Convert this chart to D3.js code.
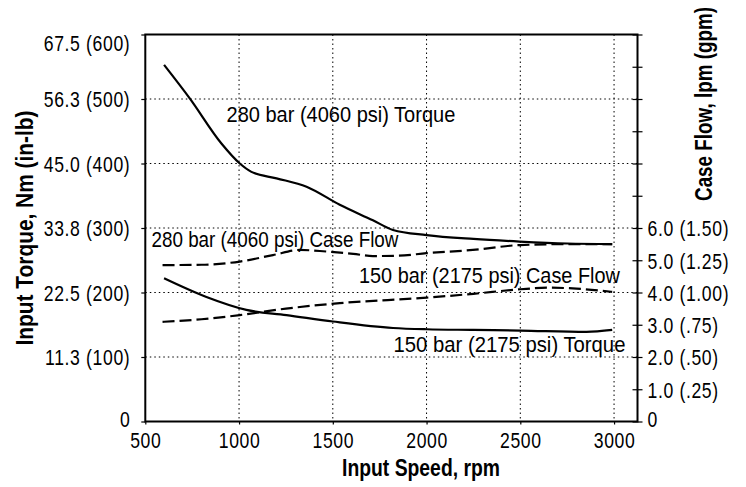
<!DOCTYPE html>
<html><head><meta charset="utf-8">
<script src="https://cdn.jsdelivr.net/npm/d3@7"></script>
<style>
body{margin:0;background:#fff}
svg{display:block}
text{font-family:"Liberation Sans",Arial,sans-serif;fill:#000}
</style>
</head><body>
<svg id="chart" width="746" height="487"></svg>
<script>
// ---- data ----
const torqueTicks = [0, 100, 200, 300, 400, 500, 600];            // in-lb
const torqueTickLabels = ["0", "11.3 (100)", "22.5 (200)", "33.8 (300)", "45.0 (400)", "56.3 (500)", "67.5 (600)"];
const flowTicks = [0, 1, 2, 3, 4, 5, 6, 7, 8, 9, 10, 11, 12];       // lpm
const flowTickLabels = ["0", "1.0 (.25)", "2.0 (.50)", "3.0 (.75)", "4.0 (1.00)", "5.0 (1.25)", "6.0 (1.50)", "", "", "", "", "", ""];
const speedTicks = [500, 1000, 1500, 2000, 2500, 3000];

// 280 bar torque (rpm, in-lb)
const torque280 = [[600,553],[737,501],[906,431],[1004,400],[1066,387],[1200,377],[1360,364],[1537,336],[1714,312],[1821,297],[2000,289],[2250,283],[2496,279],[2750,276],[2990,275]];
// 150 bar torque (rpm, in-lb)
const torque150 = [[600,222],[826,193],[1039,173],[1253,165],[1501,155],[1821,145],[2000,143],[2250,142],[2500,141],[2853,139],[2990,142]];
// 280 bar case flow (rpm, lpm)
const flow280 = [[592,4.85],[800,4.86],[1004,4.96],[1181,5.16],[1324,5.32],[1466,5.27],[1609,5.2],[1714,5.13],[1850,5.14],[2000,5.22],[2247,5.32],[2496,5.47],[2750,5.5],[2990,5.5]];
// 150 bar case flow (rpm, lpm)
const flow150 = [[592,3.09],[800,3.17],[1004,3.3],[1250,3.5],[1537,3.67],[2000,3.84],[2250,3.96],[2500,4.1],[2650,4.15],[2800,4.12],[2990,4.02]];

const seriesNames = ["280 bar (4060 psi) Torque", "280 bar (4060 psi) Case Flow", "150 bar (2175 psi) Case Flow", "150 bar (2175 psi) Torque"];
const titleY = "Input Torque, Nm (in-lb)";
const titleY2 = "Case Flow, lpm (gpm)";
const titleX = "Input Speed, rpm";

// ---- layout ----
const svg = d3.select("#chart");
const X0 = 145.3, X1 = 637.5, Y0 = 421.5, Y1 = 34.5;
const x = d3.scaleLinear().domain([500, 3125]).range([X0, X1]);
const y = d3.scaleLinear().domain([0, 600]).range([Y0, Y1]);
const yR = d3.scaleLinear().domain([0, 12]).range([Y0, Y1]);

const SX = 0.8; // horizontal condensing of the tick font

// grid
const grid = svg.append("g").attr("stroke", "#000").attr("stroke-width", 1).attr("stroke-dasharray", "1.5,3");
grid.selectAll("line.h").data(torqueTicks.filter(d => d > 0 && d < 600)).join("line")
  .attr("x1", X0).attr("x2", X1).attr("y1", d => y(d)).attr("y2", d => y(d));
grid.selectAll("line.v").data(speedTicks.filter(d => d > 500)).join("line")
  .attr("y1", Y1).attr("y2", Y0).attr("x1", d => x(d)).attr("x2", d => x(d));

// axes
const left = svg.append("g").attr("transform", `translate(${X0},0)`)
  .call(d3.axisLeft(y).tickValues(torqueTicks).tickSize(4).tickPadding(11)
    .tickFormat((d, i) => torqueTickLabels[i]));
const right = svg.append("g").attr("transform", `translate(${X1},0)`)
  .call(d3.axisRight(yR).tickValues(flowTicks).tickSize(5).tickPadding(5)
    .tickFormat((d, i) => flowTickLabels[i]));
right.selectAll(".tick line").attr("x1", -5).attr("x2", 5);
const bottom = svg.append("g").attr("transform", `translate(0,${Y0})`)
  .call(d3.axisBottom(x).tickValues(speedTicks).tickSize(3).tickPadding(9)
    .tickFormat(d3.format("d")));
[left, right, bottom].forEach(g => {
  g.selectAll(".domain").remove();
  g.selectAll(".tick line").attr("stroke", "#000").attr("stroke-width", 1.2);
  g.selectAll("text").attr("font-size", 22).attr("font-family", null)
    .style("letter-spacing", "0.8px")
    .attr("x", function() { return (+d3.select(this).attr("x") || 0) / SX; })
    .attr("transform", `scale(${SX},1)`);
});
left.selectAll(".tick text").attr("dy", d => d === 600 ? "0.72em" : d === 0 ? "0.22em" : "0.36em");
right.selectAll(".tick text").attr("dy", d => d === 0 ? "0.22em" : "0.36em");
bottom.selectAll(".tick text").attr("dy", "0.68em");

// frame
svg.append("rect").attr("x", X0).attr("y", Y1).attr("width", X1 - X0).attr("height", Y0 - Y1)
  .attr("fill", "none").attr("stroke", "#000").attr("stroke-width", 2);

// lines
const lineT = d3.line().x(d => x(d[0])).y(d => y(d[1])).curve(d3.curveMonotoneX);
const lineF = d3.line().x(d => x(d[0])).y(d => yR(d[1])).curve(d3.curveMonotoneX);
const lines = svg.append("g").attr("fill", "none").attr("stroke", "#000").attr("stroke-width", 2.2);
lines.append("path").attr("d", lineT(torque280));
lines.append("path").attr("d", lineT(torque150));
lines.append("path").attr("d", lineF(flow280)).attr("stroke-dasharray", "12,5");
lines.append("path").attr("d", lineF(flow150)).attr("stroke-dasharray", "12,5");

// helper: place a text at (px,py) with rotation, condensed horizontally to a given width
function fitText(str, px, py, rot, w, size, weight, anchor) {
  const t = svg.append("text").attr("font-size", size).attr("font-weight", weight)
    .attr("text-anchor", anchor).text(str);
  const L = t.node().getComputedTextLength();
  const s = w / L;
  t.attr("transform", `translate(${px},${py}) rotate(${rot}) scale(${s},1)`);
  return t;
}

// series annotations
const annPos = [
  {x: 226.5, y: 122, w: 229},
  {x: 151.5, y: 246.5, w: 247},
  {x: 359, y: 282.5, w: 261},
  {x: 393.5, y: 352, w: 232}
];
seriesNames.forEach((s, i) => fitText(s, annPos[i].x, annPos[i].y, 0, annPos[i].w, 22, "normal", "start"));

// axis titles
fitText(titleY, 33, 228, -90, 235, 23, "bold", "middle");
fitText(titleY2, 712, 104, -90, 194, 23, "bold", "middle");
fitText(titleX, 421, 476, 0, 158, 23, "bold", "middle");
</script>
</body></html>
